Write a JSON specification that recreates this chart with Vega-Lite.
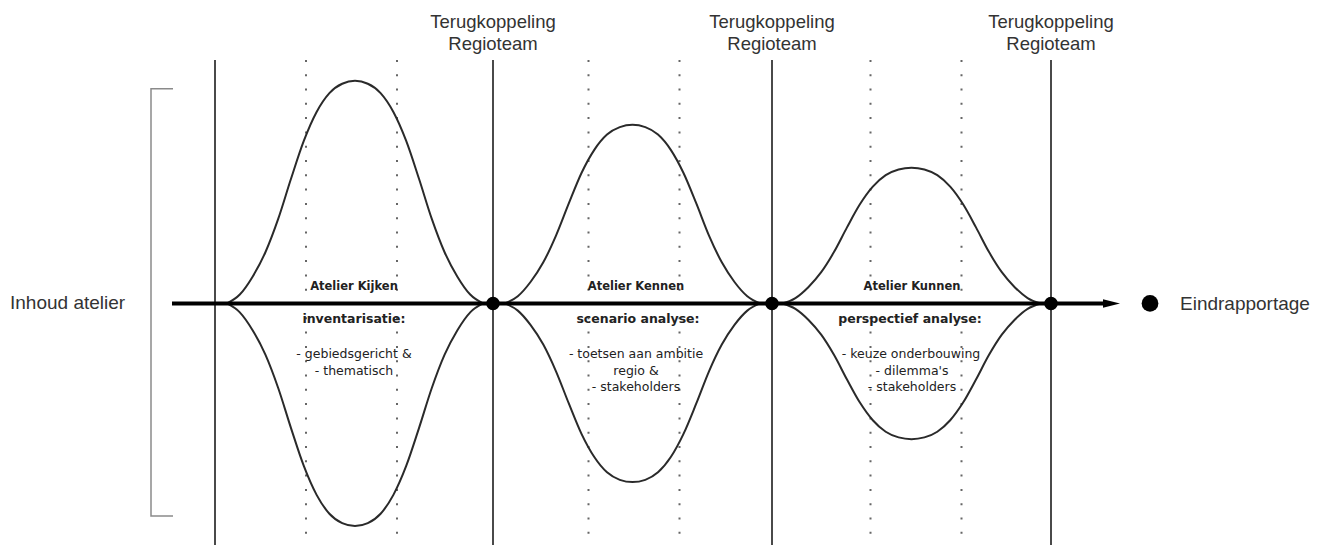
{
  "$schema": "https://vega.github.io/schema/vega-lite/v6.json",
  "width": 1322,
  "height": 546,
  "autosize": {"type": "fit", "contains": "padding"},
  "padding": 0,
  "background": "white",
  "config": {"view": {"stroke": null}},
  "datasets": {
    "curves": [
      {"bell": 1, "x": 227, "up": 0, "dn": 0},
      {"bell": 1, "x": 239.8, "up": 8.9, "dn": -8.9},
      {"bell": 1, "x": 252.6, "up": 26.8, "dn": -26.8},
      {"bell": 1, "x": 265.4, "up": 51.3, "dn": -51.3},
      {"bell": 1, "x": 278.2, "up": 84.7, "dn": -84.7},
      {"bell": 1, "x": 291, "up": 124.9, "dn": -124.9},
      {"bell": 1, "x": 303.8, "up": 162.8, "dn": -162.8},
      {"bell": 1, "x": 316.6, "up": 191.8, "dn": -191.8},
      {"bell": 1, "x": 329.4, "up": 210.7, "dn": -210.7},
      {"bell": 1, "x": 342.2, "up": 220.1, "dn": -220.1},
      {"bell": 1, "x": 355, "up": 223, "dn": -223},
      {"bell": 1, "x": 367.8, "up": 220.1, "dn": -220.1},
      {"bell": 1, "x": 380.6, "up": 210.7, "dn": -210.7},
      {"bell": 1, "x": 393.4, "up": 191.8, "dn": -191.8},
      {"bell": 1, "x": 406.2, "up": 162.8, "dn": -162.8},
      {"bell": 1, "x": 419, "up": 124.9, "dn": -124.9},
      {"bell": 1, "x": 431.8, "up": 84.7, "dn": -84.7},
      {"bell": 1, "x": 444.6, "up": 51.3, "dn": -51.3},
      {"bell": 1, "x": 457.4, "up": 26.8, "dn": -26.8},
      {"bell": 1, "x": 470.2, "up": 8.9, "dn": -8.9},
      {"bell": 1, "x": 483, "up": 0, "dn": 0},
      {"bell": 2, "x": 505, "up": 0, "dn": 0},
      {"bell": 2, "x": 517.8, "up": 7.2, "dn": -7.2},
      {"bell": 2, "x": 530.5, "up": 21.5, "dn": -21.5},
      {"bell": 2, "x": 543.3, "up": 41.2, "dn": -41.2},
      {"bell": 2, "x": 556, "up": 68.0, "dn": -68.0},
      {"bell": 2, "x": 568.8, "up": 100.2, "dn": -100.2},
      {"bell": 2, "x": 581.5, "up": 130.7, "dn": -130.7},
      {"bell": 2, "x": 594.3, "up": 153.9, "dn": -153.9},
      {"bell": 2, "x": 607, "up": 169.2, "dn": -169.2},
      {"bell": 2, "x": 619.8, "up": 176.7, "dn": -176.7},
      {"bell": 2, "x": 632.5, "up": 179, "dn": -179},
      {"bell": 2, "x": 645.3, "up": 176.7, "dn": -176.7},
      {"bell": 2, "x": 658, "up": 169.2, "dn": -169.2},
      {"bell": 2, "x": 670.8, "up": 153.9, "dn": -153.9},
      {"bell": 2, "x": 683.5, "up": 130.7, "dn": -130.7},
      {"bell": 2, "x": 696.3, "up": 100.2, "dn": -100.2},
      {"bell": 2, "x": 709, "up": 68.0, "dn": -68.0},
      {"bell": 2, "x": 721.8, "up": 41.2, "dn": -41.2},
      {"bell": 2, "x": 734.5, "up": 21.5, "dn": -21.5},
      {"bell": 2, "x": 747.3, "up": 7.2, "dn": -7.2},
      {"bell": 2, "x": 760, "up": 0, "dn": 0},
      {"bell": 3, "x": 782.5, "up": 0, "dn": 0},
      {"bell": 3, "x": 795.4, "up": 5.4, "dn": -5.4},
      {"bell": 3, "x": 808.3, "up": 16.3, "dn": -16.3},
      {"bell": 3, "x": 821.2, "up": 31.3, "dn": -31.3},
      {"bell": 3, "x": 834.1, "up": 51.7, "dn": -51.7},
      {"bell": 3, "x": 847, "up": 76.2, "dn": -76.2},
      {"bell": 3, "x": 859.9, "up": 99.3, "dn": -99.3},
      {"bell": 3, "x": 872.8, "up": 117.0, "dn": -117.0},
      {"bell": 3, "x": 885.7, "up": 128.5, "dn": -128.5},
      {"bell": 3, "x": 898.6, "up": 134.2, "dn": -134.2},
      {"bell": 3, "x": 911.5, "up": 136, "dn": -136},
      {"bell": 3, "x": 924.4, "up": 134.2, "dn": -134.2},
      {"bell": 3, "x": 937.3, "up": 128.5, "dn": -128.5},
      {"bell": 3, "x": 950.2, "up": 117.0, "dn": -117.0},
      {"bell": 3, "x": 963.1, "up": 99.3, "dn": -99.3},
      {"bell": 3, "x": 976, "up": 76.2, "dn": -76.2},
      {"bell": 3, "x": 988.9, "up": 51.7, "dn": -51.7},
      {"bell": 3, "x": 1001.8, "up": 31.3, "dn": -31.3},
      {"bell": 3, "x": 1014.7, "up": 16.3, "dn": -16.3},
      {"bell": 3, "x": 1027.6, "up": 5.4, "dn": -5.4},
      {"bell": 3, "x": 1040.5, "up": 0, "dn": 0}
    ],
    "solid": [{"x": 215}, {"x": 493}, {"x": 772}, {"x": 1051}],
    "dotted": [{"x": 306}, {"x": 397}, {"x": 588.5}, {"x": 679.5}, {"x": 870.5}, {"x": 961.5}],
    "bracket": [
      {"o": 1, "x": 173, "v": 215},
      {"o": 2, "x": 151, "v": 215},
      {"o": 3, "x": 151, "v": -213},
      {"o": 4, "x": 173, "v": -213}
    ],
    "nodes": [{"x": 493}, {"x": 772}, {"x": 1051}],
    "top": [
      {"x": 493, "v": 276, "t": "Terugkoppeling"},
      {"x": 493, "v": 254, "t": "Regioteam"},
      {"x": 772, "v": 276, "t": "Terugkoppeling"},
      {"x": 772, "v": 254, "t": "Regioteam"},
      {"x": 1051, "v": 276, "t": "Terugkoppeling"},
      {"x": 1051, "v": 254, "t": "Regioteam"}
    ],
    "side": [
      {"x": 10, "v": -6, "t": "Inhoud atelier"},
      {"x": 1180, "v": -6.5, "t": "Eindrapportage"}
    ],
    "labels": [
      {"kind": "title", "x": 354, "v": 13, "t": "Atelier Kijken"},
      {"kind": "sub", "x": 354, "v": -20, "t": "inventarisatie:"},
      {"kind": "body", "x": 354, "v": -55, "t": "- gebiedsgericht &"},
      {"kind": "body", "x": 354, "v": -71.5, "t": "- thematisch"},
      {"kind": "title", "x": 636, "v": 13, "t": "Atelier Kennen"},
      {"kind": "sub", "x": 638, "v": -20, "t": "scenario analyse:"},
      {"kind": "body", "x": 636, "v": -55, "t": "- toetsen aan ambitie"},
      {"kind": "body", "x": 636, "v": -71.5, "t": "regio &"},
      {"kind": "body", "x": 636, "v": -88, "t": "- stakeholders"},
      {"kind": "title", "x": 912, "v": 13, "t": "Atelier Kunnen"},
      {"kind": "sub", "x": 910, "v": -20, "t": "perspectief analyse:"},
      {"kind": "body", "x": 911, "v": -55, "t": "- keuze onderbouwing"},
      {"kind": "body", "x": 912, "v": -71.5, "t": "- dilemma's"},
      {"kind": "body", "x": 912, "v": -88, "t": "- stakeholders"}
    ]
  },
  "layer": [
    {
      "data": {"name": "dotted"},
      "mark": {"type": "rule", "strokeWidth": 2, "color": "#666666", "strokeDash": [2, 12.3], "strokeCap": "butt"},
      "encoding": {
        "x": {"field": "x", "type": "quantitative", "scale": {"domain": [0, 1322], "nice": false, "zero": false}, "axis": null},
        "y": {"datum": 244, "type": "quantitative", "scale": {"domain": [-242, 304], "nice": false, "zero": false}, "axis": null},
        "y2": {"datum": -242}
      }
    },
    {
      "data": {"name": "solid"},
      "mark": {"type": "rule", "strokeWidth": 2, "color": "#4a4a4a"},
      "encoding": {
        "x": {"field": "x", "type": "quantitative", "scale": {"domain": [0, 1322], "nice": false, "zero": false}, "axis": null},
        "y": {"datum": 244, "type": "quantitative", "scale": {"domain": [-242, 304], "nice": false, "zero": false}, "axis": null},
        "y2": {"datum": -242}
      }
    },
    {
      "data": {"name": "bracket"},
      "mark": {"type": "line", "strokeWidth": 1.5, "color": "#8a8a8a"},
      "encoding": {
        "x": {"field": "x", "type": "quantitative", "scale": {"domain": [0, 1322], "nice": false, "zero": false}, "axis": null},
        "y": {"field": "v", "type": "quantitative", "scale": {"domain": [-242, 304], "nice": false, "zero": false}, "axis": null},
        "order": {"field": "o", "type": "quantitative"}
      }
    },
    {
      "data": {"name": "curves"},
      "mark": {"type": "line", "strokeWidth": 2, "color": "#2a2a2a", "interpolate": "monotone"},
      "encoding": {
        "x": {"field": "x", "type": "quantitative", "scale": {"domain": [0, 1322], "nice": false, "zero": false}, "axis": null},
        "y": {"field": "up", "type": "quantitative", "scale": {"domain": [-242, 304], "nice": false, "zero": false}, "axis": null},
        "detail": {"field": "bell", "type": "nominal"}
      }
    },
    {
      "data": {"name": "curves"},
      "mark": {"type": "line", "strokeWidth": 2, "color": "#2a2a2a", "interpolate": "monotone"},
      "encoding": {
        "x": {"field": "x", "type": "quantitative", "scale": {"domain": [0, 1322], "nice": false, "zero": false}, "axis": null},
        "y": {"field": "dn", "type": "quantitative", "scale": {"domain": [-242, 304], "nice": false, "zero": false}, "axis": null},
        "detail": {"field": "bell", "type": "nominal"}
      }
    },
    {
      "data": {"values": [{"from": 172, "to": 1106}]},
      "mark": {"type": "rule", "strokeWidth": 4, "color": "#000000"},
      "encoding": {
        "x": {"field": "from", "type": "quantitative", "scale": {"domain": [0, 1322], "nice": false, "zero": false}, "axis": null},
        "x2": {"field": "to"},
        "y": {"datum": 0, "type": "quantitative", "scale": {"domain": [-242, 304], "nice": false, "zero": false}, "axis": null}
      }
    },
    {
      "data": {"values": [{"x": 1111.5}]},
      "mark": {"type": "point", "shape": "M-1,-0.5L1,0L-1,0.5Z", "size": 289, "filled": true, "opacity": 1, "color": "#000000"},
      "encoding": {
        "x": {"field": "x", "type": "quantitative", "scale": {"domain": [0, 1322], "nice": false, "zero": false}, "axis": null},
        "y": {"datum": 0, "type": "quantitative", "scale": {"domain": [-242, 304], "nice": false, "zero": false}, "axis": null}
      }
    },
    {
      "data": {"name": "nodes"},
      "mark": {"type": "point", "shape": "circle", "size": 185, "filled": true, "opacity": 1, "color": "#000000"},
      "encoding": {
        "x": {"field": "x", "type": "quantitative", "scale": {"domain": [0, 1322], "nice": false, "zero": false}, "axis": null},
        "y": {"datum": 0, "type": "quantitative", "scale": {"domain": [-242, 304], "nice": false, "zero": false}, "axis": null}
      }
    },
    {
      "data": {"values": [{"x": 1150}]},
      "mark": {"type": "point", "shape": "circle", "size": 280, "filled": true, "opacity": 1, "color": "#000000"},
      "encoding": {
        "x": {"field": "x", "type": "quantitative", "scale": {"domain": [0, 1322], "nice": false, "zero": false}, "axis": null},
        "y": {"datum": 0, "type": "quantitative", "scale": {"domain": [-242, 304], "nice": false, "zero": false}, "axis": null}
      }
    },
    {
      "data": {"name": "top"},
      "mark": {"type": "text", "font": "Liberation Sans", "fontSize": 18.5, "color": "#333333", "align": "center", "baseline": "alphabetic"},
      "encoding": {
        "x": {"field": "x", "type": "quantitative", "scale": {"domain": [0, 1322], "nice": false, "zero": false}, "axis": null},
        "y": {"field": "v", "type": "quantitative", "scale": {"domain": [-242, 304], "nice": false, "zero": false}, "axis": null},
        "text": {"field": "t"}
      }
    },
    {
      "data": {"name": "side"},
      "mark": {"type": "text", "font": "Liberation Sans", "fontSize": 19, "color": "#333333", "align": "left", "baseline": "alphabetic"},
      "encoding": {
        "x": {"field": "x", "type": "quantitative", "scale": {"domain": [0, 1322], "nice": false, "zero": false}, "axis": null},
        "y": {"field": "v", "type": "quantitative", "scale": {"domain": [-242, 304], "nice": false, "zero": false}, "axis": null},
        "text": {"field": "t"}
      }
    },
    {
      "data": {"name": "labels"},
      "transform": [{"filter": "datum.kind == 'title'"}],
      "mark": {"type": "text", "font": "DejaVu Sans", "fontSize": 11.5, "fontWeight": "bold", "color": "#222222", "align": "center", "baseline": "alphabetic"},
      "encoding": {
        "x": {"field": "x", "type": "quantitative", "scale": {"domain": [0, 1322], "nice": false, "zero": false}, "axis": null},
        "y": {"field": "v", "type": "quantitative", "scale": {"domain": [-242, 304], "nice": false, "zero": false}, "axis": null},
        "text": {"field": "t"}
      }
    },
    {
      "data": {"name": "labels"},
      "transform": [{"filter": "datum.kind == 'sub'"}],
      "mark": {"type": "text", "font": "DejaVu Sans", "fontSize": 12.5, "fontWeight": "bold", "color": "#222222", "align": "center", "baseline": "alphabetic"},
      "encoding": {
        "x": {"field": "x", "type": "quantitative", "scale": {"domain": [0, 1322], "nice": false, "zero": false}, "axis": null},
        "y": {"field": "v", "type": "quantitative", "scale": {"domain": [-242, 304], "nice": false, "zero": false}, "axis": null},
        "text": {"field": "t"}
      }
    },
    {
      "data": {"name": "labels"},
      "transform": [{"filter": "datum.kind == 'body'"}],
      "mark": {"type": "text", "font": "DejaVu Sans", "fontSize": 12.5, "color": "#222222", "align": "center", "baseline": "alphabetic"},
      "encoding": {
        "x": {"field": "x", "type": "quantitative", "scale": {"domain": [0, 1322], "nice": false, "zero": false}, "axis": null},
        "y": {"field": "v", "type": "quantitative", "scale": {"domain": [-242, 304], "nice": false, "zero": false}, "axis": null},
        "text": {"field": "t"}
      }
    }
  ]
}
